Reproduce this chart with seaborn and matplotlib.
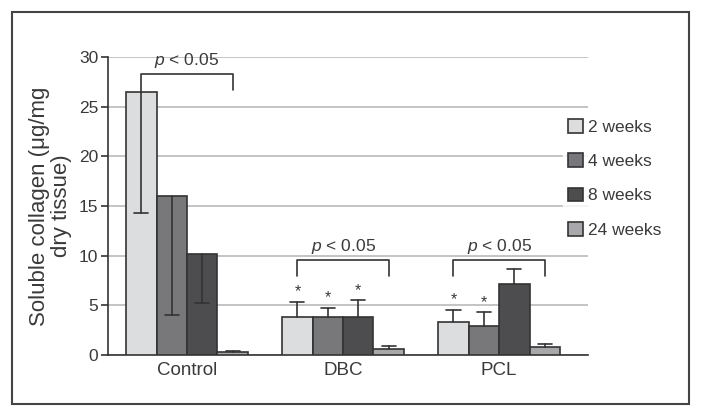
import numpy as np
import pandas as pd
import matplotlib
matplotlib.use("Agg")
import matplotlib.pyplot as plt
import seaborn as sns
from matplotlib.patches import Rectangle, Patch

# data
groups = ["Control", "DBC", "PCL"]
times = ["2 weeks", "4 weeks", "8 weeks", "24 weeks"]
means = {
    "Control": [26.5, 16.0, 10.2, 0.3],
    "DBC": [3.85, 3.8, 3.85, 0.64],
    "PCL": [3.32, 2.89, 7.15, 0.77],
}
# end point of each error bar (below the mean for Control, above otherwise)
err_ends = {
    "Control": [14.3, 4.0, 5.2, 0.42],
    "DBC": [5.34, 4.77, 5.5, 0.9],
    "PCL": [4.53, 4.3, 8.7, 1.14],
}
# bars marked with an asterisk (group, time index)
starred = [("DBC", 0), ("DBC", 1), ("DBC", 2), ("PCL", 0), ("PCL", 1)]
# brackets: group, bar from, bar to, top, left leg end, right leg end
brackets = [
    ("Control", 0, 3, 28.3, 26.5, 26.7),
    ("DBC", 0, 3, 9.6, 8.0, 8.0),
    ("PCL", 0, 3, 9.6, 8.0, 8.0),
]
colors = ["#dcdddf", "#77787c", "#4d4d4f", "#a7a8ab"]
edge = "#333333"

rows = []
for g in groups:
    for t, m in zip(times, means[g]):
        rows.append({"group": g, "time": t, "value": m})
df = pd.DataFrame(rows)

sns.set_style("white")
plt.rcParams["font.family"] = ["Liberation Sans", "DejaVu Sans"]
plt.rcParams["mathtext.fontset"] = "custom"
plt.rcParams["mathtext.it"] = "Liberation Sans:italic"
plt.rcParams["mathtext.rm"] = "Liberation Sans"
txt = "#3a3a3a"

fig = plt.figure(figsize=(7.02, 4.18), dpi=100)
ax = fig.add_axes([0.1538, 0.1507, 0.684, 0.7129])

sns.barplot(data=df, x="group", y="value", hue="time", order=groups,
            hue_order=times, palette=colors, width=0.78, errorbar=None,
            edgecolor=edge, linewidth=1.2, ax=ax, legend=False, zorder=3)

# bar centres from the drawn patches
centres = {}
bars = [p for p in ax.patches if isinstance(p, Rectangle) and p.get_width() > 0]
bars = sorted(bars, key=lambda p: p.get_x())
for i, p in enumerate(bars):
    g = groups[i // 4]
    centres[(g, i % 4)] = p.get_x() + p.get_width() / 2

for g in groups:
    for k in range(4):
        x = centres[(g, k)]
        m = means[g][k]
        e = err_ends[g][k]
        ax.plot([x, x], [m, e], color=edge, lw=1.2, zorder=4)
        ax.plot([x - 0.045, x + 0.045], [e, e], color=edge, lw=1.2, zorder=4)

for g, k in starred:
    ax.text(centres[(g, k)], err_ends[g][k] + 1.0, "*", ha="center",
            va="center", fontsize=11.5, color=txt, zorder=5)

for g, a, b, top, l_end, r_end in brackets:
    xa, xb = centres[(g, a)], centres[(g, b)]
    ax.plot([xa, xa, xb, xb], [l_end, top, top, r_end], color=edge,
            lw=1.2, zorder=4)
    ax.text((xa + xb) / 2, top + 0.35, "$p$ < 0.05", ha="center",
            va="bottom", fontsize=12.5, color=txt, zorder=5)

ax.set_ylim(0, 30)
ax.set_xlim(-0.506, 2.57)
ax.set_yticks([0, 5, 10, 15, 20, 25, 30])
ax.yaxis.grid(True, color="#b4b4b4", lw=1.1, zorder=0)
ax.set_axisbelow(True)
sns.despine(ax=ax, top=True, right=True)
for s in ["left", "bottom"]:
    ax.spines[s].set_color(edge)
    ax.spines[s].set_linewidth(1.2)
ax.tick_params(axis="y", length=5, width=1.2, color=edge, labelsize=12.5,
               labelcolor=txt, pad=2, left=True)
ax.tick_params(axis="x", length=0, labelsize=13.5, labelcolor=txt, pad=5)
ax.set_xlabel("")
ax.set_ylabel("Soluble collagen (\u03bcg/mg\ndry tissue)", fontsize=16,
              color=txt, linespacing=1.05, labelpad=5)

handles = [Patch(facecolor=c, edgecolor=edge, lw=1.2) for c in colors]
leg = fig.legend(handles, times, loc="upper left",
                 bbox_to_anchor=(0.789, 0.748), frameon=True,
                 fontsize=12.5, handlelength=0.85, handleheight=0.85,
                 handletextpad=0.3, labelspacing=1.05, borderpad=0.3,
                 labelcolor=txt)
leg.get_frame().set_facecolor("white")
leg.get_frame().set_edgecolor("white")

fig.patches.append(Rectangle((12 / 702, 1 - 404 / 418), 677 / 702, 392 / 418,
                             transform=fig.transFigure, fill=False,
                             edgecolor="#444444", lw=1.5))

fig.savefig("out.png", dpi=100)
